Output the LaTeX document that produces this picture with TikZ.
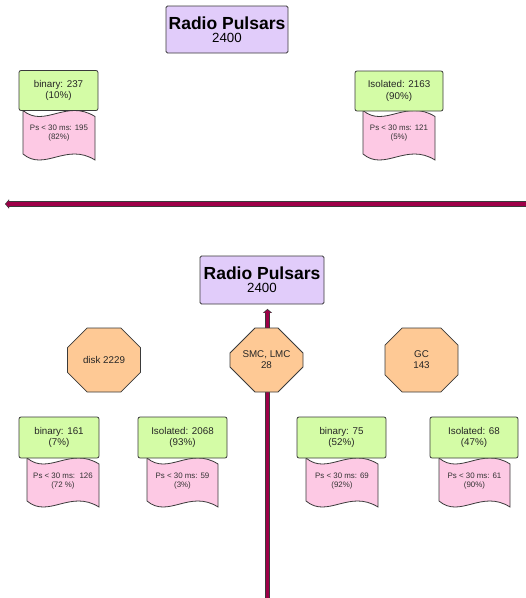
\documentclass[tikz,border=0pt]{standalone}
\usepackage{fontspec}
\setmainfont{Liberation Sans}
\usetikzlibrary{arrows.meta,shapes.misc}
\definecolor{purp}{HTML}{E1CCFA}
\definecolor{grn}{HTML}{D4FCA6}
\definecolor{pnk}{HTML}{FDC9E4}
\definecolor{org}{HTML}{FEC995}
\definecolor{arr}{HTML}{9E0048}
\definecolor{edge}{HTML}{3A3A3A}
\tikzset{
  titlebox/.style={draw=edge, fill=purp, rounded corners=1.5pt, line width=0.8pt,
    minimum width=122pt, minimum height=47pt, align=center, inner sep=0pt},
  countbox/.style={draw=edge, fill=grn, rounded corners=2pt, line width=0.8pt,
    minimum height=40pt, align=center, inner sep=0pt, text=black!85,
    font=\fontsize{9.8}{11.5}\selectfont},
  tapetext/.style={align=center, inner sep=0pt, text=black!80,
    font=\fontsize{7.9}{9}\selectfont},
  tapeshape/.style={draw=edge, fill=pnk, line width=0.8pt},
  octbox/.style={chamfered rectangle, chamfered rectangle xsep=19pt,
    chamfered rectangle ysep=16pt, draw=edge, fill=org, line width=0.8pt,
    minimum width=73pt, minimum height=64pt, inner sep=0pt, align=center,
    text=black!85, font=\fontsize{9.8}{11}\selectfont},
  shaftout/.style={line width=5.5pt, draw=edge, -{Triangle[length=4pt,width=9pt]}},
  shaftin/.style={line width=3.5pt, draw=arr, shorten >=1pt, -{Triangle[length=3pt,width=6.5pt]}}
}
\newcommand\wavytape[4]{%
  \draw[tapeshape] (#1,#2) .. controls ({#1+0.3*(#3-#1)},{#2+18}) and ({#1+0.6*(#3-#1)},{#2-12}) .. (#3,{#2+6})
    -- (#3,#4) .. controls ({#1+0.6*(#3-#1)},{#4-18}) and ({#1+0.3*(#3-#1)},{#4+12}) .. (#1,{#4-6}) -- cycle;}
\begin{document}
\begin{tikzpicture}[x=1pt,y=-1pt]
\useasboundingbox (0,0) rectangle (526,598);
% ---------- top half ----------
\node[titlebox] (t1) at (227,29.5) {{\fontsize{17.5}{18}\selectfont\bfseries Radio Pulsars}\\[1pt]{\fontsize{13.3}{15}\selectfont 2400}};
\wavytape{23}{110.5}{95}{160}
\node[tapetext] (p1) at (59,133.5) {Ps < 30 ms: 195\\(82\%)};
\wavytape{363}{110.5}{435}{160}
\node[tapetext] (p2) at (399,133.5) {Ps < 30 ms: 121\\(5\%)};
\node[countbox, minimum width=79pt] (b1) at (58.5,90.5) {binary: 237\\(10\%)};
\node[countbox, minimum width=88pt] (i1) at (399,91) {Isolated: 2163\\(90\%)};
\coordinate (hR) at (530,204);
\coordinate (hL) at (5,204);
\draw[shaftout] (hR) -- (hL);
\draw[shaftin] (hR) -- (hL);
% ---------- bottom half ----------
\node[titlebox, minimum width=124pt, minimum height=48pt] (t2) at (262,280) {{\fontsize{17.5}{18}\selectfont\bfseries Radio Pulsars}\\[1pt]{\fontsize{13.3}{15}\selectfont 2400}};
\coordinate (vB) at (267.5,602);
\draw[shaftout, shorten >=4.5pt] (vB) -- (vB |- t2.south);
\draw[shaftin, shorten >=5.5pt] (vB) -- (vB |- t2.south);
\node[octbox] (disk) at (104,360) {disk 2229};
\node[octbox] (smc) at (266.5,360) {SMC, LMC\\28};
\node[octbox] (gc) at (421.5,360) {GC\\143};
\wavytape{27}{458}{99}{507}
\node[tapetext] (p3) at (63,481) {Ps < 30 ms:\ \ 126\\(72 \%)};
\wavytape{147}{458}{218}{507}
\node[tapetext] (p4) at (182.5,481) {Ps < 30 ms: 59\\(3\%)};
\wavytape{306}{458}{378}{507}
\node[tapetext] (p5) at (342,481) {Ps < 30 ms: 69\\(92\%)};
\wavytape{439}{458}{510}{507}
\node[tapetext] (p6) at (474.5,481) {Ps < 30 ms: 61\\(90\%)};
\node[countbox, minimum width=80pt, minimum height=41pt] (b2) at (59,437.5) {binary: 161\\(7\%)};
\node[countbox, minimum width=89pt, minimum height=41pt] (i2) at (182.5,437.5) {Isolated: 2068\\(93\%)};
\node[countbox, minimum width=89pt, minimum height=41pt] (b3) at (341.5,437.5) {binary: 75\\(52\%)};
\node[countbox, minimum width=88pt, minimum height=41pt] (i3) at (474,437.5) {Isolated: 68\\(47\%)};
\end{tikzpicture}
\end{document}
